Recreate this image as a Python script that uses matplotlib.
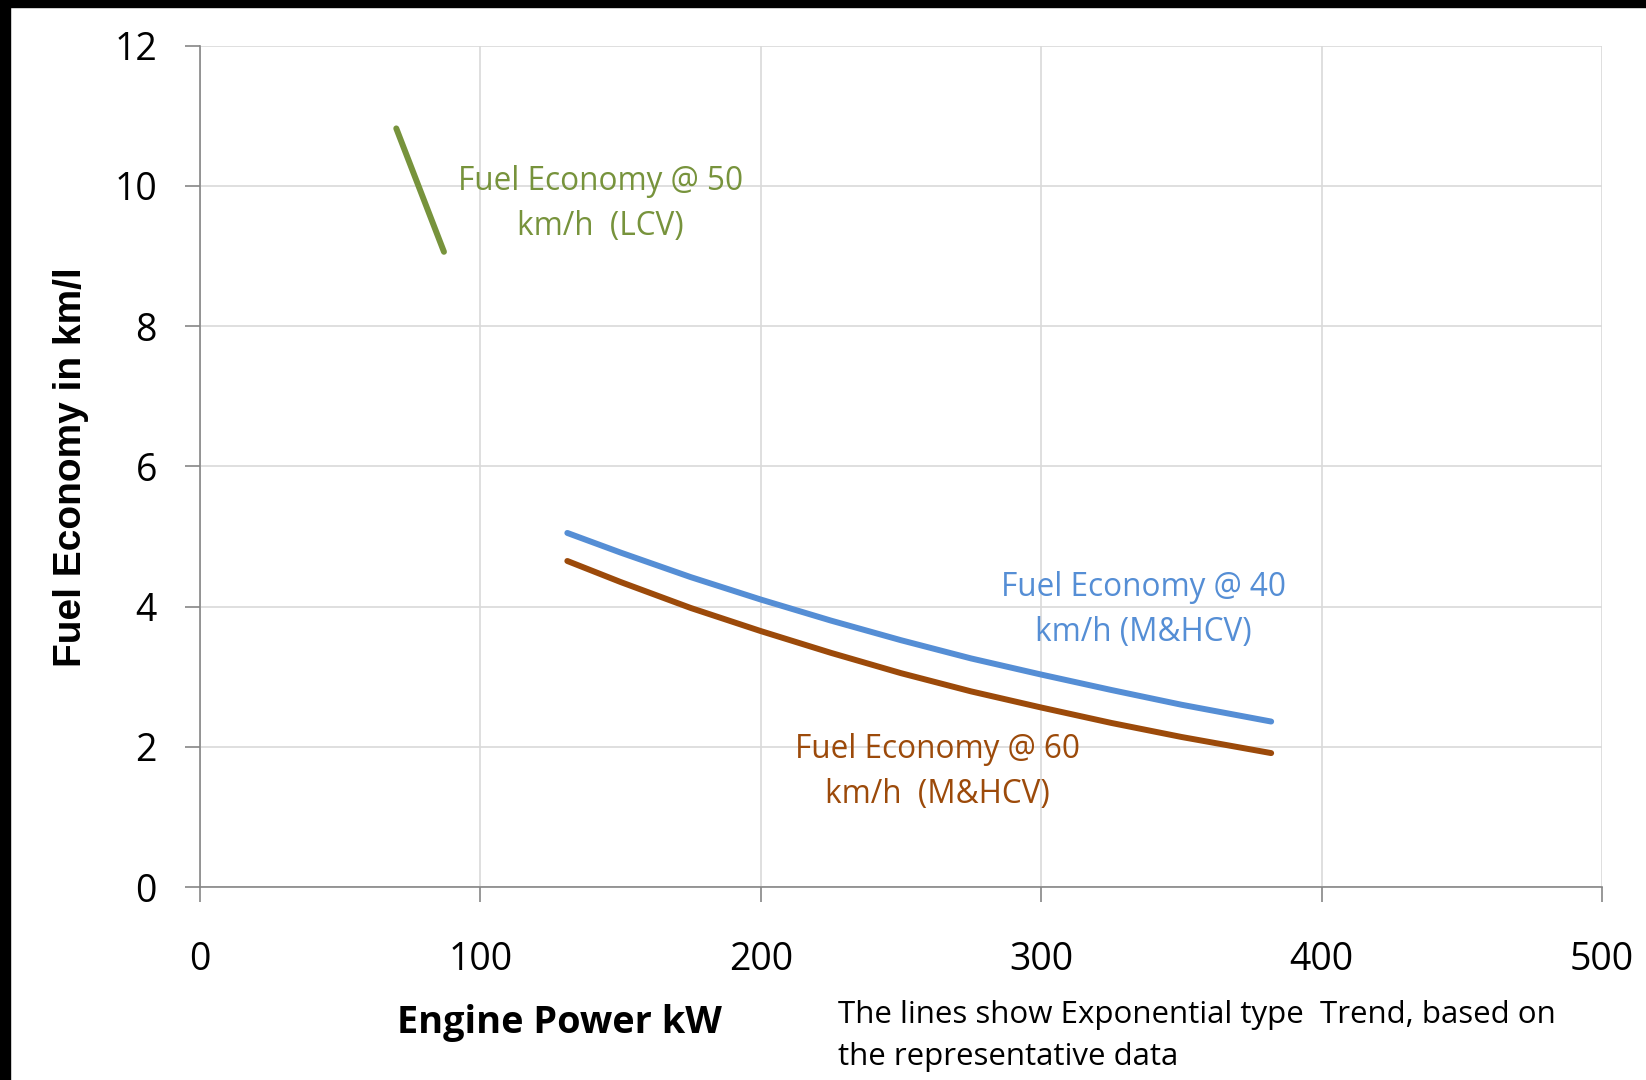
import matplotlib
matplotlib.use('Agg')
import matplotlib.pyplot as plt
from matplotlib.patches import Rectangle

# Values (engine power kW -> fuel economy km/l)
lcv50_power = [70, 87]
lcv50_economy = [10.82, 9.06]

mhcv40_power = [131, 150, 175, 200, 225, 250, 275, 300, 325, 350, 382]
mhcv40_economy = [5.05, 4.77, 4.42, 4.10, 3.80, 3.52, 3.26, 3.03, 2.81, 2.60, 2.36]

mhcv60_power = [131, 150, 175, 200, 225, 250, 275, 300, 325, 350, 382]
mhcv60_economy = [4.65, 4.35, 3.98, 3.65, 3.34, 3.05, 2.79, 2.56, 2.34, 2.14, 1.91]

x_ticks = [0, 100, 200, 300, 400, 500]
y_ticks = [0, 2, 4, 6, 8, 10, 12]

GREEN = '#77933C'
BLUE = '#558ED5'
BROWN = '#9C4A0A'
FONT = 'Open Sans'

fig = plt.figure(figsize=(16.46, 10.8), dpi=100)
ax = fig.add_axes([0.1215, 0.1787, 0.9733 - 0.1215, 0.9577 - 0.1787])

ax.plot(lcv50_power, lcv50_economy, color=GREEN, lw=4.3, solid_capstyle='round')
ax.plot(mhcv40_power, mhcv40_economy, color=BLUE, lw=4.3, solid_capstyle='round')
ax.plot(mhcv60_power, mhcv60_economy, color=BROWN, lw=4.3, solid_capstyle='round')

ax.set_xlim(0, 500)
ax.set_ylim(0, 12)
ax.set_xticks(x_ticks)
ax.set_yticks(y_ticks)
ax.grid(True, color='#D9D9D9', lw=1.2)
ax.set_axisbelow(True)
for s in ['top', 'right']:
    ax.spines[s].set_visible(False)
for s in ['left', 'bottom']:
    ax.spines[s].set_color('#868686')
    ax.spines[s].set_linewidth(1.2)
ax.tick_params(axis='both', length=11, width=1.2, color='#868686',
               labelsize=27, labelcolor='black')
ax.tick_params(axis='x', pad=28)
ax.tick_params(axis='y', pad=20)
for lbl in ax.get_xticklabels() + ax.get_yticklabels():
    lbl.set_fontfamily(FONT)

# series labels
ax.text(142.7, 9.74, 'Fuel Economy @ 50\nkm/h  (LCV)', color=GREEN, fontsize=22.7,
        family=FONT, ha='center', va='center', linespacing=1.5)
ax.text(336.5, 3.95, 'Fuel Economy @ 40\nkm/h (M&HCV)', color=BLUE, fontsize=22.7,
        family=FONT, ha='center', va='center', linespacing=1.5)
ax.text(263, 1.64, 'Fuel Economy @ 60\nkm/h  (M&HCV)', color=BROWN, fontsize=22.7,
        family=FONT, ha='center', va='center', linespacing=1.5)

# axis titles
fig.text(559 / 1646, 1 - 1023 / 1080, 'Engine Power kW', fontsize=27.3,
         fontweight='bold', family=FONT, ha='center', va='center')
fig.text(71 / 1646, 1 - 467 / 1080, 'Fuel Economy in km/l', fontsize=28,
         fontweight='bold', family='Liberation Sans', rotation=90,
         ha='center', va='center')

# footnote
fig.text(838 / 1646, 1 - 1036 / 1080,
         'The lines show Exponential type  Trend, based on\nthe representative data',
         fontsize=22.5, family=FONT, ha='left', va='center', linespacing=1.5)

# black strips along the top and left edge of the reference
fig.patches.append(Rectangle((0, 1 - 7 / 1080), 1, 7 / 1080, transform=fig.transFigure,
                             color='black', zorder=10))
fig.patches.append(Rectangle((0, 0), 10 / 1646, 1, transform=fig.transFigure,
                             color='black', zorder=10))

fig.savefig('out.png', dpi=100, facecolor='white')
